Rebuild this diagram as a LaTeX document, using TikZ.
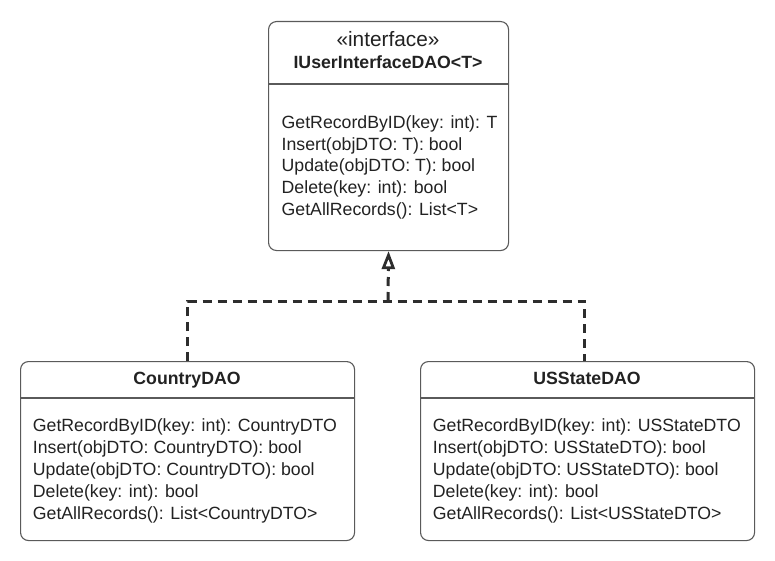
\documentclass[tikz,border=0pt]{standalone}
\usepackage{fontspec}
\setmainfont{Liberation Sans}
\usetikzlibrary{arrows.meta}
\definecolor{txt}{RGB}{34,34,34}
\definecolor{edge}{RGB}{90,90,90}
\definecolor{dep}{RGB}{45,45,45}
\tikzset{
  umlbox/.style={draw=edge, line width=1.1pt, rounded corners=8pt, fill=white, inner sep=0pt, anchor=north west},
  divider/.style={draw=edge, line width=1.1pt},
  lbl/.style={inner sep=0pt, text=txt, font=\fontsize{17.7}{22}\selectfont},
  deppath/.style={draw=dep, line width=3pt, dash pattern=on 9pt off 6pt},
  realize/.style={-{Triangle[open, length=18pt, width=13pt, line width=2.8pt]}}
}
\begin{document}
\begin{tikzpicture}[x=1pt, y=-1pt]
\useasboundingbox[fill=white] (0,0) rectangle (775,561);

% interface box
\node[umlbox, minimum width=240pt, minimum height=229pt] (iface) at (268,21) {};
\draw[divider] (268,84) -- (508,84);
\node[lbl, anchor=base, font=\fontsize{20.8}{24}\selectfont] (st) at (388,47) {«interface»};
\node[lbl, anchor=base, font=\fontsize{17.7}{22}\selectfont\bfseries] (ititle) at (388,69) {IUserInterfaceDAO<T>};
\foreach \t [count=\i from 0] in {GetRecordByID(key: int): T,Insert(objDTO: T): bool,Update(objDTO: T): bool,Delete(key: int): bool,GetAllRecords(): List<T>}
  \node[lbl, anchor=base west] (im\i) at (281.5,128.5+21.75*\i) {\t};

% CountryDAO box
\node[umlbox, minimum width=334pt, minimum height=179pt] (cdao) at (20,361) {};
\draw[divider] (20,398) -- (354,398);
\node[lbl, anchor=base, font=\fontsize{17.7}{22}\selectfont\bfseries] (ctitle) at (187,384.3) {CountryDAO};
\foreach \t [count=\i from 0] in {GetRecordByID(key: int): CountryDTO,Insert(objDTO: CountryDTO): bool,Update(objDTO: CountryDTO): bool,Delete(key: int): bool,GetAllRecords(): List<CountryDTO>}
  \node[lbl, anchor=base west] (cm\i) at (32.7,431+22.1*\i) {\t};

% USStateDAO box
\node[umlbox, minimum width=334pt, minimum height=179pt] (usdao) at (420,361) {};
\draw[divider] (420,398) -- (754,398);
\node[lbl, anchor=base, font=\fontsize{17.7}{22}\selectfont\bfseries] (utitle) at (587,384.3) {USStateDAO};
\foreach \t [count=\i from 0] in {GetRecordByID(key: int): USStateDTO,Insert(objDTO: USStateDTO): bool,Update(objDTO: USStateDTO): bool,Delete(key: int): bool,GetAllRecords(): List<USStateDTO>}
  \node[lbl, anchor=base west] (um\i) at (432.7,431+22.1*\i) {\t};

% realization connectors
\coordinate (join) at (388,301);
\coordinate (uin) at ([xshift=-3pt]usdao.north);
\draw[deppath] (cdao.north) |- (join) -| (uin);
\draw[deppath, realize] (join) -- (iface.south);
\end{tikzpicture}
\end{document}
